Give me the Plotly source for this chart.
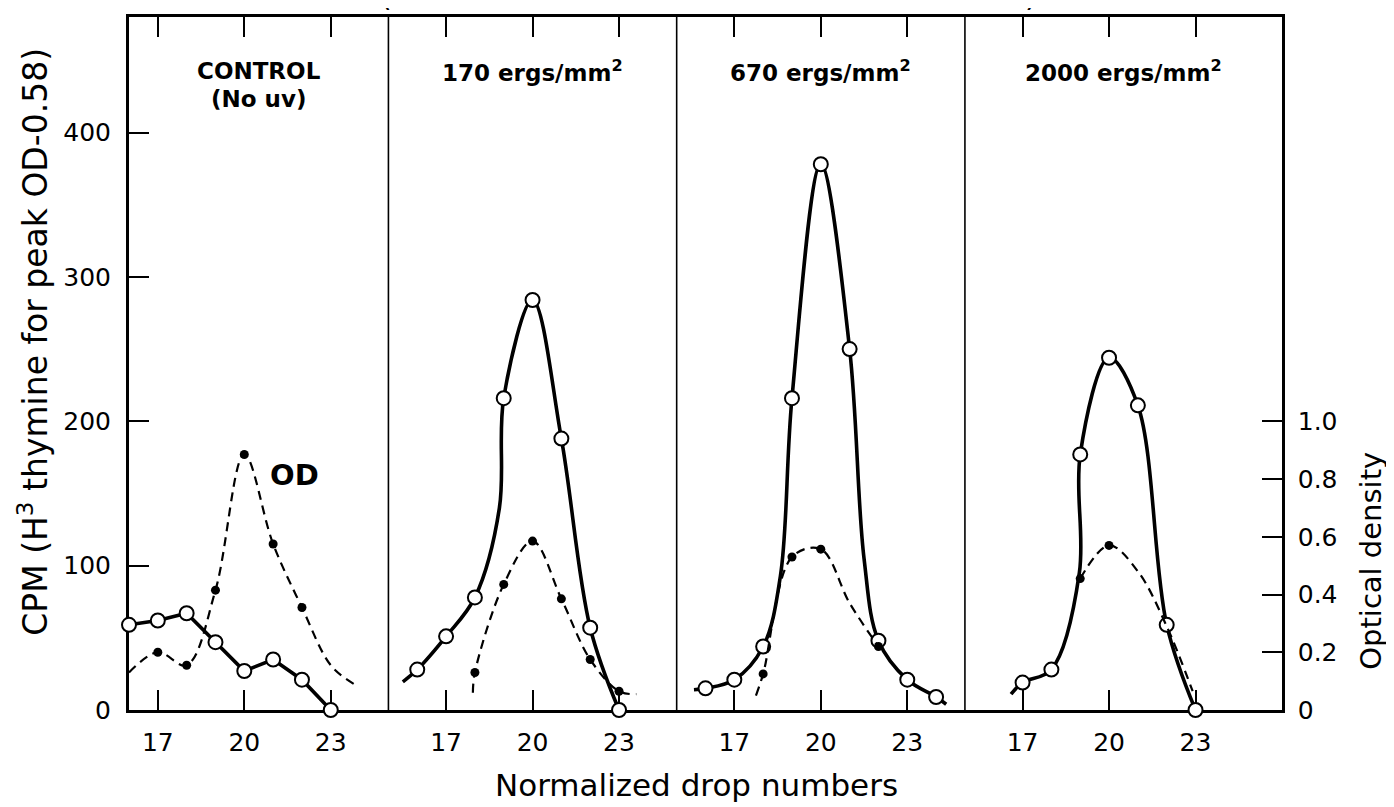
import plotly.graph_objects as go

# ---------------- data ----------------
drop_tick_vals = [17, 20, 23]
cpm_tick_vals = [0, 100, 200, 300, 400]
od_tick_vals = [0, 0.2, 0.4, 0.6, 0.8, 1.0]
od_tick_text = ["0", "0.2", "0.4", "0.6", "0.8", "1.0"]

panel_names = ["CONTROL", "170 ergs/mm<sup>2</sup>", "670 ergs/mm<sup>2</sup>", "2000 ergs/mm<sup>2</sup>"]
control_subtitle = "(No uv)"
panel_drop_ranges = [[16, 25], [15, 25], [15, 25], [15, 26]]

# Control (no uv)
ctrl_cpm_x = [16, 17, 18, 19, 20, 21, 22, 23]
ctrl_cpm_y = [59, 62, 67, 47, 27, 35, 21, 0]
ctrl_cpm_line_x = [16, 17, 18, 19, 20, 21, 22, 23]
ctrl_cpm_line_y = [59, 62, 67, 47, 27, 35, 21, 0]
ctrl_od_x = [17, 18, 19, 20, 21, 22]
ctrl_od_y = [0.20, 0.155, 0.415, 0.885, 0.575, 0.355]
ctrl_od_line_x = [16, 17, 18, 19, 20, 21, 22, 23, 23.8]
ctrl_od_line_y = [0.13, 0.20, 0.155, 0.415, 0.885, 0.575, 0.355, 0.155, 0.09]

# 170 ergs/mm2
e170_cpm_x = [16, 17, 18, 19, 20, 21, 22, 23]
e170_cpm_y = [28, 51, 78, 216, 284, 188, 57, 0]
e170_cpm_line_x = [15.5, 16, 17, 18, 18.85, 19, 20, 21, 22, 23]
e170_cpm_line_y = [19.5, 28, 51, 78, 140, 216, 284, 188, 57, 0]
e170_od_x = [18, 19, 20, 21, 22, 23]
e170_od_y = [0.13, 0.435, 0.585, 0.385, 0.175, 0.065]
e170_od_line_x = [17.93, 18, 19, 20, 21, 22, 23, 23.6]
e170_od_line_y = [0.06, 0.13, 0.435, 0.585, 0.385, 0.175, 0.065, 0.055]

# 670 ergs/mm2
e670_cpm_x = [16, 17, 18, 19, 20, 21, 22, 23, 24]
e670_cpm_y = [15, 21, 44, 216, 378, 250, 48, 21, 9]
e670_cpm_line_x = [15.6, 16, 17, 18, 18.6, 19, 20, 21, 21.5, 22, 23, 24, 24.35]
e670_cpm_line_y = [14, 15, 21, 44, 93, 216, 378, 250, 105, 48, 21, 9, 4]
e670_od_x = [18, 19, 20, 22]
e670_od_y = [0.125, 0.53, 0.557, 0.22]
e670_od_line_x = [17.75, 18, 19, 20, 21, 22]
e670_od_line_y = [0.05, 0.125, 0.53, 0.557, 0.37, 0.22]

# 2000 ergs/mm2
e2000_cpm_x = [17, 18, 19, 20, 21, 22, 23]
e2000_cpm_y = [19, 28, 177, 244, 211, 59, 0]
e2000_cpm_line_x = [16.6, 17, 18, 18.97, 19, 20, 21, 22, 23]
e2000_cpm_line_y = [11, 19, 28, 95, 177, 244, 211, 59, 0]
e2000_od_x = [19, 20]
e2000_od_y = [0.455, 0.57]
e2000_od_line_x = [19, 20, 21, 22, 22.9]
e2000_od_line_y = [0.455, 0.57, 0.48, 0.29, 0.065]

panels = [
    (ctrl_cpm_x, ctrl_cpm_y, ctrl_cpm_line_x, ctrl_cpm_line_y, "linear",
     ctrl_od_x, ctrl_od_y, ctrl_od_line_x, ctrl_od_line_y),
    (e170_cpm_x, e170_cpm_y, e170_cpm_line_x, e170_cpm_line_y, "spline",
     e170_od_x, e170_od_y, e170_od_line_x, e170_od_line_y),
    (e670_cpm_x, e670_cpm_y, e670_cpm_line_x, e670_cpm_line_y, "spline",
     e670_od_x, e670_od_y, e670_od_line_x, e670_od_line_y),
    (e2000_cpm_x, e2000_cpm_y, e2000_cpm_line_x, e2000_cpm_line_y, "spline",
     e2000_od_x, e2000_od_y, e2000_od_line_x, e2000_od_line_y),
]

FONT = "DejaVu Sans"
fig = go.Figure()

suffixes = ["", "2", "3", "4"]
# dashed OD lines first, then solid CPM lines, then markers
for i, p in enumerate(panels):
    s = suffixes[i]
    fig.add_trace(go.Scatter(x=p[7], y=p[8], mode="lines", xaxis="x" + s, yaxis="y5",
                             line=dict(color="black", width=2.2, dash="9px,6px", shape="spline", smoothing=1),
                             hoverinfo="skip"))
for i, p in enumerate(panels):
    s = suffixes[i]
    fig.add_trace(go.Scatter(x=p[2], y=p[3], mode="lines", xaxis="x" + s, yaxis="y",
                             line=dict(color="black", width=3.6, shape=p[4], smoothing=1),
                             hoverinfo="skip"))
for i, p in enumerate(panels):
    s = suffixes[i]
    fig.add_trace(go.Scatter(x=p[5], y=p[6], mode="markers", xaxis="x" + s, yaxis="y5",
                             marker=dict(symbol="circle", size=9, color="black"),
                             cliponaxis=False))
for i, p in enumerate(panels):
    s = suffixes[i]
    fig.add_trace(go.Scatter(x=p[0], y=p[1], mode="markers", xaxis="x" + s, yaxis="y",
                             marker=dict(symbol="circle", size=14, color="white",
                                         line=dict(color="black", width=2)),
                             cliponaxis=False))

# domains proportional to drop-number spans
spans = [r[1] - r[0] for r in panel_drop_ranges]
total = sum(spans)
edges = [0.0]
for sp in spans:
    edges.append(edges[-1] + sp / total)
edges[-1] = 1.0

# the page body adds an 8px offset, so the figure is 8px smaller than the window
layout = dict(
    width=1386, height=799, autosize=False,
    margin=dict(l=121, r=112, t=6, b=97),
    paper_bgcolor="white", plot_bgcolor="white",
    showlegend=False,
    font=dict(family=FONT, color="black", size=25),
)
for i in range(4):
    s = suffixes[i]
    layout["xaxis" + s] = dict(
        domain=[edges[i], edges[i + 1]], range=panel_drop_ranges[i],
        tickvals=drop_tick_vals, ticks="inside", ticklen=20, tickwidth=1.6, tickcolor="black",
        showline=True, linewidth=3, linecolor="black", mirror="ticks",
        showgrid=False, zeroline=False, anchor="y", layer="below traces",
        tickfont=dict(family=FONT, size=25), ticklabelstandoff=8, fixedrange=True,
    )
layout["yaxis"] = dict(
    range=[0, 480], tickvals=cpm_tick_vals, ticks="inside", ticklen=20, tickwidth=2,
    tickcolor="black", showline=True, linewidth=3, linecolor="black",
    showgrid=False, zeroline=False, anchor="x", layer="below traces",
    tickfont=dict(family=FONT, size=25), ticklabelstandoff=10,
)
layout["yaxis5"] = dict(
    range=[0, 2.4], overlaying="y", anchor="x4", side="right",
    tickvals=od_tick_vals, ticktext=od_tick_text, ticks="inside", ticklen=20, tickwidth=2,
    tickcolor="black", showline=True, linewidth=2.5, linecolor="black",
    showgrid=False, zeroline=False, layer="below traces",
    tickfont=dict(family=FONT, size=25), ticklabelstandoff=8,
)
fig.update_layout(**layout)

# panel dividers
for e in edges[1:-1]:
    fig.add_shape(type="line", xref="paper", yref="paper", x0=e, x1=e, y0=0, y1=1,
                  line=dict(color="black", width=1.6), layer="below")

annotations = []
for i in range(4):
    s = suffixes[i]
    annotations.append(dict(text="<b>" + panel_names[i] + "</b>", xref="x" + s + " domain", x=0.5,
                            yref="paper", y=0.922, xanchor="center", yanchor="middle",
                            showarrow=False, font=dict(family=FONT, size=23)))
annotations.append(dict(text="<b>" + control_subtitle + "</b>", xref="x domain", x=0.5,
                        yref="paper", y=0.881, xanchor="center", yanchor="middle",
                        showarrow=False, font=dict(family=FONT, size=23)))
annotations.append(dict(text="<b>OD</b>", xref="x", x=21.75, yref="y", y=163,
                        xanchor="center", yanchor="middle", showarrow=False,
                        font=dict(family=FONT, size=29)))
annotations.append(dict(text="CPM (H<sup>3</sup> thymine for peak OD-0.58)", textangle=-90,
                        xref="paper", x=-0.0835, yref="paper", y=0.531,
                        xanchor="center", yanchor="middle", showarrow=False,
                        font=dict(family=FONT, size=33)))
annotations.append(dict(text="Optical density", textangle=-90,
                        xref="paper", x=1.077, yref="paper", y=0.215,
                        xanchor="center", yanchor="middle", showarrow=False,
                        font=dict(family=FONT, size=29)))
annotations.append(dict(text="Normalized drop numbers",
                        xref="paper", x=0.4926, yref="paper", y=-0.108,
                        xanchor="center", yanchor="middle", showarrow=False,
                        font=dict(family=FONT, size=31)))
# partially cut-off title parentheses at the very top
annotations.append(dict(text="(", xref="paper", x=0.223, yref="paper", y=1.003,
                        xanchor="center", yanchor="bottom", showarrow=False,
                        font=dict(family=FONT, size=30)))
annotations.append(dict(text=")", xref="paper", x=0.782, yref="paper", y=1.003,
                        xanchor="center", yanchor="bottom", showarrow=False,
                        font=dict(family=FONT, size=30)))
fig.update_layout(annotations=annotations)

fig.write_html("out.html")
